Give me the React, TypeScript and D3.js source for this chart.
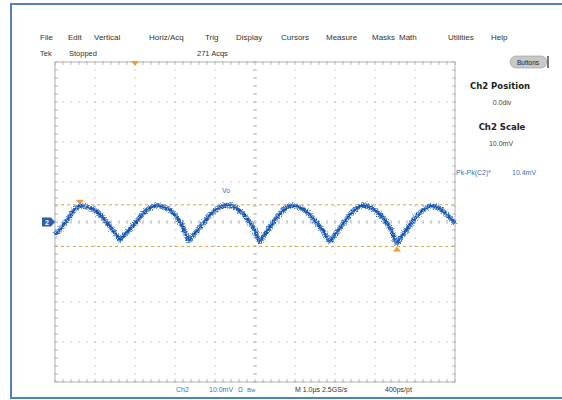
import { scaleLinear, line, curveMonotoneX, range } from 'd3'

// menu bar and status labels
const MENU = ['File', 'Edit', 'Vertical', 'Horiz/Acq', 'Trig', 'Display', 'Cursors', 'Measure', 'Masks', 'Math', 'Utilities', 'Help']
const MENU_X = [40, 68, 94, 149, 205, 236, 281, 326, 372, 399, 448, 491]

// trace: time (us) and Ch2 voltage (mV)
const TRACE_T = [
  -5.0, -4.85, -4.7, -4.55, -4.45, -4.375, -4.2, -4.0, -3.8, -3.6, -3.45, -3.375, -3.3, -3.1, -2.9,
  -2.7, -2.55, -2.45, -2.3, -2.1, -1.9, -1.75, -1.65, -1.57, -1.4, -1.2, -1.0, -0.85, -0.7, -0.55,
  -0.35, -0.15, 0.0, 0.125, 0.2, 0.35, 0.55, 0.75, 0.925, 1.1, 1.3, 1.5, 1.7, 1.875, 1.95,
  2.1, 2.3, 2.5, 2.7, 2.85, 3.05, 3.25, 3.42, 3.55, 3.63, 3.8, 4.0, 4.2, 4.425, 4.6, 4.8, 5.0,
]
const TRACE_V = [
  -3.2, -1.6, 0.5, 2.6, 3.6, 4.0, 3.7, 2.9, 1.0, -1.4, -3.4, -4.5, -3.6, -1.5, 0.9,
  3.0, 3.9, 4.1, 3.8, 2.8, 0.4, -2.4, -4.7, -3.7, -1.6, 0.9, 2.9, 3.8, 4.2, 3.9,
  2.6, 0.2, -2.2, -4.9, -3.8, -1.6, 1.2, 3.3, 4.1, 3.7, 2.5, 0.3, -2.2, -4.8, -3.8,
  -1.8, 0.9, 3.1, 4.1, 3.8, 2.6, 0.4, -2.3, -5.3, -4.1, -1.8, 0.9, 3.0, 4.0, 3.5, 1.8, -0.3,
]

// cursors (mV) and markers
const CURSOR_V = [4.3, -6.1]
const CURSOR_MARK_T = [-4.375, 3.55]
const TRIG_T = -3.0

export default function App() {
  const W = 562
  const H = 400
  const grid = { left: 55, top: 62, width: 400, height: 320 }

  const x = scaleLinear().domain([-5, 5]).range([grid.left, grid.left + grid.width])
  const y = scaleLinear().domain([-40, 40]).range([grid.top + grid.height, grid.top])

  const xDiv = range(-5, 6, 1)
  const yDiv = range(-40, 41, 10)
  const xMinor = range(-5, 5.001, 0.2)
  const yMinor = range(-40, 40.001, 2)

  const pts = TRACE_T.map((t, i) => [t, TRACE_V[i]] as [number, number])
  const path = line<[number, number]>()
    .x((d) => x(d[0]))
    .y((d) => y(d[1]))
    .curve(curveMonotoneX)(pts) || ''

  const gridCol = '#bdbdbd'
  const orange = '#e9a030'
  const font = "'Liberation Sans', Arial, sans-serif"
  const x0 = x(0)
  const y0 = y(0)

  return (
    <div style={{ position: 'absolute', left: 0, top: 0 }}>
      <svg width={W} height={H} style={{ display: 'block', background: '#fff' }} fontFamily={font}>
        <defs>
          <filter id='noise' x='-5%' y='-30%' width='110%' height='160%'>
            <feTurbulence type='fractalNoise' baseFrequency='0.8' numOctaves={2} seed={4} result='n' />
            <feDisplacementMap in='SourceGraphic' in2='n' scale={6} xChannelSelector='R' yChannelSelector='G' />
          </filter>
        </defs>

        {/* outer frame */}
        <rect x={11} y={4} width={580} height={394} fill='none' stroke='#4f81bd' strokeWidth={2} />

        {/* menu */}
        {MENU.map((m, i) => (
          <text key={m} x={MENU_X[i]} y={40} fontSize={8} fill='#333'>{m}</text>
        ))}
        <text x={40} y={56} fontSize={7.5} fill='#333'>Tek</text>
        <text x={69} y={56} fontSize={7.5} fill='#333'>Stopped</text>
        <text x={197} y={56} fontSize={7.5} fill='#333'>271 Acqs</text>

        {/* buttons pill */}
        <rect x={510} y={56} width={37} height={12} rx={6} fill='#c8c8c8' stroke='#999' strokeWidth={0.6} />
        <text x={528} y={64.5} fontSize={6.5} textAnchor='middle' fill='#222'>Buttons</text>
        <line x1={548} x2={548} y1={56} y2={68} stroke='#222' strokeWidth={1.2} />

        {/* grid */}
        <g>
          {xDiv.map((d) => (
            <line key={'v' + d} x1={x(d)} x2={x(d)} y1={grid.top} y2={grid.top + grid.height}
              stroke={gridCol} strokeWidth={1} strokeDasharray='1.5 6.5' strokeDashoffset={0.75} />
          ))}
          {yDiv.map((d) => (
            <line key={'h' + d} x1={grid.left} x2={grid.left + grid.width} y1={y(d)} y2={y(d)}
              stroke={gridCol} strokeWidth={1} strokeDasharray='1.5 6.5' strokeDashoffset={0.75} />
          ))}
          {/* center ticks */}
          {xMinor.map((d, i) => (
            <g key={'cx' + i}>
              <line x1={x(d)} x2={x(d)} y1={y0 - 2} y2={y0 + 2} stroke={gridCol} />
              <line x1={x(d)} x2={x(d)} y1={grid.top} y2={grid.top + 3} stroke={gridCol} />
              <line x1={x(d)} x2={x(d)} y1={grid.top + grid.height - 3} y2={grid.top + grid.height} stroke={gridCol} />
            </g>
          ))}
          {yMinor.map((d, i) => (
            <g key={'cy' + i}>
              <line x1={x0 - 2} x2={x0 + 2} y1={y(d)} y2={y(d)} stroke={gridCol} />
              <line x1={grid.left} x2={grid.left + 3} y1={y(d)} y2={y(d)} stroke={gridCol} />
              <line x1={grid.left + grid.width - 3} x2={grid.left + grid.width} y1={y(d)} y2={y(d)} stroke={gridCol} />
            </g>
          ))}
          <rect x={grid.left} y={grid.top} width={grid.width} height={grid.height} fill='none' stroke='#b0b0b0' />
        </g>

        {/* cursors */}
        {CURSOR_V.map((v) => (
          <line key={v} x1={grid.left} x2={grid.left + grid.width} y1={y(v)} y2={y(v)}
            stroke={orange} strokeWidth={1} strokeDasharray='3 3' />
        ))}
        <path d={`M${x(CURSOR_MARK_T[0]) - 4},${y(CURSOR_V[0]) - 5}h8l-4,5z`} fill={orange} />
        <path d={`M${x(CURSOR_MARK_T[1]) - 4},${y(CURSOR_V[1]) + 5}h8l-4,-5z`} fill={orange} />
        {/* trigger position */}
        <path d={`M${x(TRIG_T) - 4},${grid.top - 1}h8l-4,5z`} fill={orange} />

        {/* trace */}
        <g filter='url(#noise)'>
          <path d={path} fill='none' stroke='#4f8ad8' strokeWidth={5} strokeLinejoin='round' opacity={0.85} />
          <path d={path} fill='none' stroke='#1d52a6' strokeWidth={2.2} strokeLinejoin='round' />
        </g>
        <text x={226} y={193} fontSize={7} fill='#3a6fc0' textAnchor='middle'>Vo</text>

        {/* channel marker */}
        <path d={`M${grid.left - 13},${y0 - 4.5}h9l4,4.5l-4,4.5h-9z`} fill='#2a5fb0' />
        <text x={grid.left - 8} y={y0 + 3} fontSize={7} fontWeight='bold' fill='#fff' textAnchor='middle'>2</text>

        {/* right panel */}
        <text x={500} y={89} fontSize={8.5} fontWeight='bold' fill='#222' textAnchor='middle' fontFamily="'DejaVu Sans', sans-serif">Ch2 Position</text>
        <text x={502} y={105} fontSize={7} fill='#444' textAnchor='middle'>0.0div</text>
        <text x={502} y={130} fontSize={8.5} fontWeight='bold' fill='#222' textAnchor='middle' fontFamily="'DejaVu Sans', sans-serif">Ch2 Scale</text>
        <text x={501} y={146} fontSize={7} fill='#444' textAnchor='middle'>10.0mV</text>
        <text x={456} y={175} fontSize={7} fill='#3a6fc0'>Pk-Pk(C2)*</text>
        <text x={512} y={175} fontSize={7} fill='#3a6fc0'>10.4mV</text>

        {/* status bar */}
        <text x={176} y={392} fontSize={7} fill='#3a6fc0'>Ch2</text>
        <text x={209} y={392} fontSize={7} fill='#3a6fc0'>10.0mV</text>
        <text x={238} y={392} fontSize={6.5} fill='#3a6fc0'>Ω</text>
        <text x={247} y={392} fontSize={6} fill='#3a6fc0'>Bw</text>
        <text x={295} y={392} fontSize={7} fill='#333'>M 1.0µs 2.5GS/s</text>
        <text x={385} y={392} fontSize={7} fill='#333'>400ps/pt</text>
      </svg>
    </div>
  )
}
